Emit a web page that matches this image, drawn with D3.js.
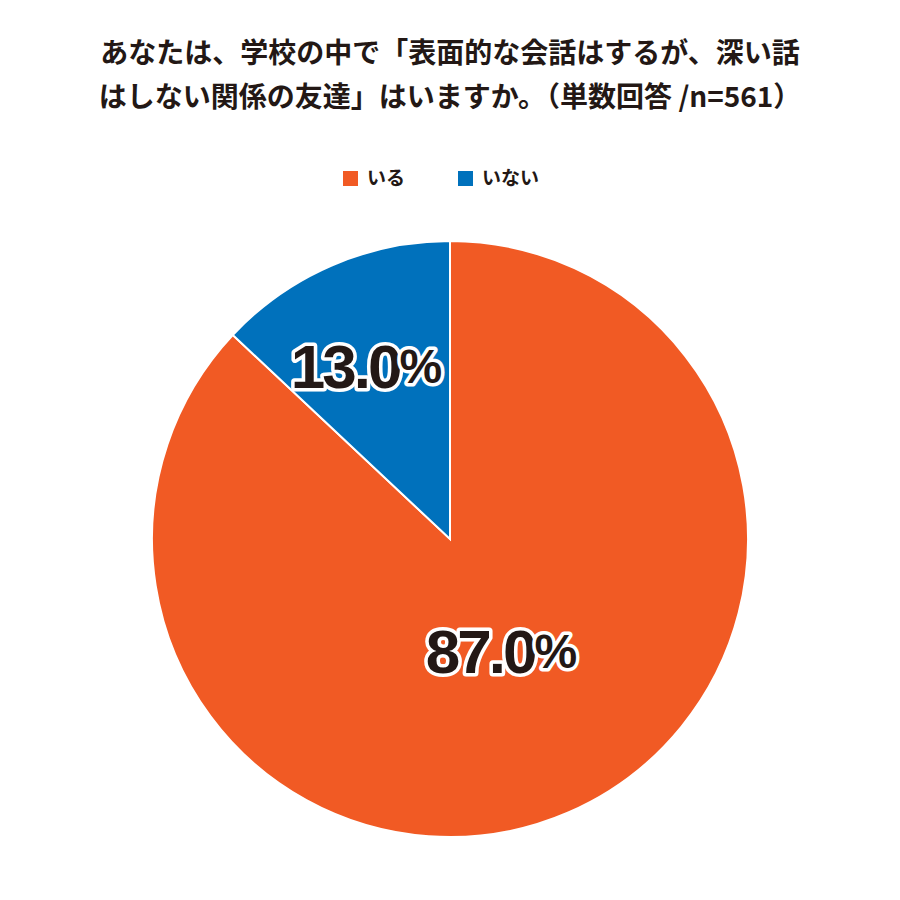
<!DOCTYPE html>
<html><head><meta charset="utf-8">
<script src="https://cdn.jsdelivr.net/npm/d3@7"></script>
<style>body{margin:0;background:#fff;}</style>
</head><body>
<svg id="chart" width="900" height="900"></svg>
<script>
const titleLines = ["あなたは、学校の中で「表面的な会話はするが、深い話", "はしない関係の友達」はいますか。（単数回答 /n=561）"];
const categories = ["いる", "いない"];
const values = [87.0, 13.0];
const colors = ["#F15A24", "#0071BC"];

const svg = d3.select("#chart");
const font = "'Noto Sans CJK JP', 'Noto Sans', sans-serif";

// title
svg.selectAll("text.title").data(titleLines).join("text")
  .attr("x", 450).attr("y", (d, i) => 63 + i * 44)
  .attr("text-anchor", "middle")
  .style("font-family", font).style("font-weight", "bold").style("font-size", "28px")
  .attr("fill", "#231815").text(d => d);

// legend
const legendX = [343, 458];
const lg = svg.selectAll("g.leg").data(categories).join("g")
  .attr("transform", (d, i) => `translate(${legendX[i]},171)`);
lg.append("rect").attr("width", 15).attr("height", 15).attr("fill", (d, i) => colors[i]);
lg.append("text").attr("x", 24).attr("y", 14)
  .style("font-family", font).style("font-weight", "bold").style("font-size", "19px")
  .attr("fill", "#231815").text(d => d);

// pie
const cx = 450, cy = 539, r = 298;
const pie = d3.pie().sort(null);
const arc = d3.arc().innerRadius(0).outerRadius(r);
const g = svg.append("g").attr("transform", `translate(${cx},${cy})`);
const arcs = pie(values);
g.selectAll("path").data(arcs).join("path")
  .attr("d", arc).attr("fill", (d, i) => colors[i])
  .attr("stroke", "#fff").attr("stroke-width", 2);

// labels
const labelPos = [[50, 112], [-85, -173]];
arcs.forEach((d, i) => {
  const t = g.append("text")
    .attr("x", labelPos[i][0]).attr("y", labelPos[i][1])
    .attr("text-anchor", "middle").attr("dominant-baseline", "central")
    .style("font-family", "'Liberation Sans', Arial, sans-serif")
    .style("font-weight", "bold").style("font-size", "62px")
    .style("letter-spacing", "-3px")
    .attr("fill", "#231815").attr("stroke", "#fff").attr("stroke-width", 7)
    .attr("paint-order", "stroke").attr("stroke-linejoin", "round");
  t.append("tspan").text(values[i].toFixed(1));
  t.append("tspan").style("font-size", "48px").text("%");
});
</script>
</body></html>
